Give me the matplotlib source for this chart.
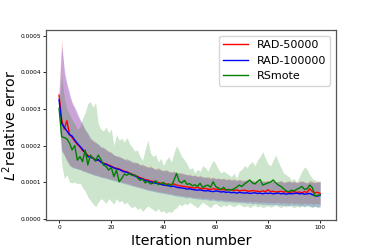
import numpy as np
import matplotlib
matplotlib.use("Agg")
import matplotlib.pyplot as plt
from matplotlib.ticker import FormatStrFormatter

# values in units of 1e-4, one per iteration 0..100
iters = np.arange(101)

rad50_mean = [3.38,
    2.70, 2.45, 2.68, 2.30, 2.22, 2.12, 2.03, 1.96, 1.86, 1.82,
    1.73, 1.70, 1.66, 1.62, 1.60, 1.56, 1.52, 1.50, 1.47, 1.44,
    1.40, 1.38, 1.36, 1.33, 1.30, 1.28, 1.25, 1.22, 1.18, 1.16,
    1.12, 1.10, 1.07, 1.06, 1.03, 1.02, 1.00, 0.99, 0.97, 0.96,
    0.95, 0.94, 0.93, 0.95, 0.92, 0.90, 0.89, 0.88, 0.87, 0.86,
    0.85, 0.84, 0.86, 0.83, 0.82, 0.83, 0.81, 0.80, 0.82, 0.81,
    0.80, 0.79, 0.80, 0.78, 0.80, 0.78, 0.77, 0.79, 0.76, 0.77,
    0.78, 0.76, 0.75, 0.77, 0.76, 0.75, 0.74, 0.76, 0.74, 0.79,
    0.74, 0.75, 0.73, 0.74, 0.75, 0.73, 0.74, 0.72, 0.73, 0.74,
    0.72, 0.73, 0.71, 0.74, 0.72, 0.82, 0.74, 0.71, 0.72, 0.69]
rad50_upper = [3.55,
    4.93, 3.95, 3.65, 3.35, 3.20, 3.00, 2.83, 2.70, 2.55, 2.45,
    2.30, 2.18, 2.15, 2.10, 2.02, 1.98, 1.93, 1.90, 1.85, 1.80,
    1.75, 1.70, 1.72, 1.66, 1.62, 1.65, 1.58, 1.55, 1.56, 1.52,
    1.48, 1.50, 1.44, 1.42, 1.45, 1.38, 1.36, 1.40, 1.34, 1.32,
    1.35, 1.30, 1.28, 1.31, 1.26, 1.24, 1.27, 1.22, 1.20, 1.23,
    1.18, 1.20, 1.16, 1.19, 1.15, 1.13, 1.16, 1.12, 1.14, 1.10,
    1.12, 1.09, 1.11, 1.08, 1.10, 1.07, 1.09, 1.05, 1.08, 1.06,
    1.05, 1.08, 1.04, 1.06, 1.03, 1.05, 1.02, 1.04, 1.03, 1.06,
    1.02, 1.04, 1.01, 1.03, 1.05, 1.00, 1.02, 1.04, 1.01, 1.03,
    1.00, 1.02, 1.04, 1.01, 0.99, 1.05, 1.02, 1.00, 1.03, 1.01]
rad50_lower = [2.95,
    1.90, 1.72, 1.60, 1.45, 1.42, 1.40, 1.37, 1.35, 1.32, 1.30,
    1.27, 1.25, 1.22, 1.20, 1.18, 1.15, 1.14, 1.12, 1.10, 1.08,
    1.06, 1.05, 1.03, 1.00, 0.98, 0.97, 0.95, 0.92, 0.90, 0.88,
    0.86, 0.85, 0.82, 0.80, 0.79, 0.77, 0.76, 0.74, 0.73, 0.72,
    0.70, 0.69, 0.68, 0.66, 0.65, 0.64, 0.63, 0.62, 0.60, 0.61,
    0.59, 0.58, 0.57, 0.58, 0.55, 0.56, 0.54, 0.53, 0.55, 0.52,
    0.51, 0.52, 0.50, 0.51, 0.49, 0.50, 0.48, 0.49, 0.47, 0.48,
    0.47, 0.46, 0.48, 0.45, 0.47, 0.46, 0.44, 0.46, 0.45, 0.44,
    0.45, 0.43, 0.44, 0.45, 0.42, 0.44, 0.43, 0.42, 0.44, 0.41,
    0.43, 0.42, 0.40, 0.43, 0.41, 0.42, 0.40, 0.41, 0.42, 0.40]

rad100_mean = [3.25,
    2.60, 2.50, 2.40, 2.30, 2.26, 2.15, 2.06, 1.98, 1.90, 1.80,
    1.70, 1.68, 1.66, 1.58, 1.62, 1.55, 1.50, 1.49, 1.45, 1.42,
    1.39, 1.36, 1.35, 1.31, 1.28, 1.27, 1.23, 1.20, 1.17, 1.14,
    1.10, 1.08, 1.04, 1.03, 1.01, 0.99, 0.97, 0.96, 0.94, 0.92,
    0.91, 0.90, 0.88, 0.89, 0.86, 0.85, 0.84, 0.83, 0.81, 0.82,
    0.80, 0.79, 0.78, 0.79, 0.77, 0.76, 0.77, 0.75, 0.74, 0.76,
    0.75, 0.73, 0.74, 0.72, 0.73, 0.71, 0.72, 0.70, 0.72, 0.71,
    0.70, 0.71, 0.69, 0.70, 0.71, 0.69, 0.70, 0.68, 0.70, 0.69,
    0.70, 0.68, 0.69, 0.70, 0.68, 0.69, 0.67, 0.69, 0.68, 0.69,
    0.70, 0.68, 0.69, 0.67, 0.68, 0.69, 0.66, 0.63, 0.62, 0.64]
rad100_upper = [3.40,
    4.72, 4.10, 3.70, 3.45, 3.15, 3.05, 2.90, 2.72, 2.60, 2.42,
    2.35, 2.22, 2.12, 2.08, 2.05, 1.95, 1.96, 1.88, 1.83, 1.82,
    1.74, 1.73, 1.68, 1.67, 1.63, 1.60, 1.61, 1.55, 1.52, 1.54,
    1.47, 1.46, 1.45, 1.40, 1.41, 1.39, 1.35, 1.36, 1.33, 1.31,
    1.32, 1.29, 1.27, 1.28, 1.25, 1.26, 1.22, 1.23, 1.20, 1.19,
    1.17, 1.18, 1.15, 1.16, 1.13, 1.14, 1.12, 1.10, 1.12, 1.09,
    1.10, 1.08, 1.09, 1.06, 1.08, 1.05, 1.07, 1.04, 1.06, 1.03,
    1.04, 1.05, 1.02, 1.04, 1.01, 1.03, 1.00, 1.02, 1.01, 1.03,
    1.00, 1.02, 0.99, 1.01, 1.03, 0.98, 1.00, 1.02, 0.99, 1.01,
    0.98, 1.00, 1.02, 0.99, 0.97, 1.01, 1.00, 0.98, 1.01, 0.99]
rad100_lower = [2.80,
    1.85, 1.75, 1.58, 1.48, 1.40, 1.38, 1.36, 1.34, 1.30, 1.28,
    1.25, 1.23, 1.20, 1.18, 1.16, 1.13, 1.12, 1.10, 1.08, 1.06,
    1.04, 1.02, 1.00, 0.98, 0.96, 0.94, 0.92, 0.90, 0.88, 0.86,
    0.84, 0.82, 0.80, 0.78, 0.76, 0.75, 0.73, 0.72, 0.70, 0.69,
    0.68, 0.66, 0.65, 0.63, 0.62, 0.61, 0.60, 0.58, 0.57, 0.58,
    0.56, 0.55, 0.54, 0.53, 0.52, 0.53, 0.51, 0.50, 0.51, 0.49,
    0.48, 0.49, 0.47, 0.46, 0.47, 0.45, 0.46, 0.44, 0.45, 0.43,
    0.44, 0.42, 0.43, 0.41, 0.42, 0.40, 0.41, 0.39, 0.40, 0.38,
    0.39, 0.38, 0.40, 0.37, 0.38, 0.36, 0.37, 0.35, 0.38, 0.36,
    0.37, 0.35, 0.36, 0.34, 0.36, 0.35, 0.33, 0.34, 0.32, 0.33]

rsmote_mean = [3.02,
    2.24, 2.22, 2.18, 2.07, 1.88, 2.00, 1.60, 1.70, 1.56, 1.88,
    1.47, 1.74, 1.65, 1.58, 1.74, 1.62, 1.47, 1.43, 1.33, 1.40,
    1.15, 1.33, 1.01, 1.10, 1.22, 1.19, 1.24, 1.18, 1.20, 1.12,
    1.05, 1.08, 0.98, 1.02, 0.95, 0.97, 1.04, 0.93, 0.96, 0.99,
    0.92, 0.95, 0.90, 1.05, 1.24, 1.02, 0.98, 1.05, 0.94, 0.96,
    0.90, 0.93, 0.88, 0.97, 0.85, 0.90, 0.92, 0.86, 1.01, 0.88,
    0.84, 0.80, 0.86, 0.78, 0.80, 0.78, 0.82, 0.86, 0.92, 0.88,
    0.95, 1.00, 1.06, 0.98, 0.95, 1.02, 1.07, 0.92, 0.95, 0.98,
    1.00, 1.06, 0.98, 0.92, 0.88, 0.82, 0.76, 0.74, 0.78, 0.76,
    0.80, 0.84, 0.88, 0.80, 0.82, 0.92, 0.85, 0.62, 0.64, 0.65]
rsmote_upper = [3.05,
    3.90, 3.30, 3.00, 2.85, 2.70, 2.60, 2.45, 2.50, 2.75, 2.90,
    3.15, 3.20, 3.05, 3.18, 2.60, 2.45, 2.40, 2.50, 2.35, 2.45,
    2.00, 2.30, 2.15, 2.20, 2.10, 2.22, 2.05, 1.95, 1.85, 1.88,
    1.70, 1.60, 1.90, 2.15, 1.80, 1.70, 1.75, 1.55, 1.65, 1.45,
    1.60, 1.70, 1.55, 1.80, 2.00, 1.85, 1.70, 1.61, 1.50, 1.35,
    1.40, 1.25, 1.35, 1.30, 1.45, 1.40, 1.30, 1.45, 1.60, 1.50,
    1.35, 1.25, 1.30, 1.25, 1.20, 1.15, 1.25, 1.10, 1.30, 1.35,
    1.45, 1.40, 1.50, 1.56, 1.45, 1.60, 1.70, 1.83, 1.65, 1.50,
    1.45, 1.60, 1.74, 1.55, 1.40, 1.25, 1.20, 1.15, 1.05, 1.10,
    1.00, 1.15, 1.30, 1.42, 1.35, 1.20, 1.10, 1.06, 1.00, 1.05]
rsmote_lower = [2.90,
    1.50, 1.10, 1.20, 1.00, 0.98, 1.00, 0.95, 0.98, 0.85, 0.75,
    0.60, 0.50, 0.40, 0.33, 0.45, 0.55, 0.50, 0.42, 0.55, 0.48,
    0.40, 0.55, 0.45, 0.50, 0.40, 0.45, 0.35, 0.30, 0.35, 0.25,
    0.30, 0.20, 0.28, 0.35, 0.30, 0.25, 0.20, 0.28, 0.18, 0.22,
    0.15, 0.20, 0.17, 0.25, 0.30, 0.40, 0.35, 0.42, 0.38, 0.45,
    0.40, 0.35, 0.30, 0.38, 0.45, 0.40, 0.35, 0.30, 0.38, 0.42,
    0.36, 0.32, 0.38, 0.34, 0.40, 0.36, 0.33, 0.37, 0.40, 0.35,
    0.32, 0.36, 0.30, 0.34, 0.37, 0.32, 0.35, 0.30, 0.33, 0.36,
    0.31, 0.34, 0.37, 0.33, 0.30, 0.35, 0.32, 0.36, 0.33, 0.30,
    0.34, 0.31, 0.35, 0.32, 0.36, 0.33, 0.30, 0.34, 0.31, 0.33]

scale = 1e-4
series = [
    ('RAD-50000', 'r', rad50_mean, rad50_lower, rad50_upper),
    ('RAD-100000', 'b', rad100_mean, rad100_lower, rad100_upper),
    ('RSmote', 'g', rsmote_mean, rsmote_lower, rsmote_upper),
]

fig = plt.figure(figsize=(3.74, 2.49), dpi=100)
ax = fig.add_axes([0.123, 0.1165, 0.775, 0.763])

for name, c, m, lo, hi in series:
    ax.fill_between(iters, np.array(lo) * scale, np.array(hi) * scale, color=c, alpha=0.2, linewidth=0)
for name, c, m, lo, hi in series:
    ax.plot(iters, np.array(m) * scale, color=c, linewidth=1, label=name)

ax.set_xlim(-5, 106)
ax.set_ylim(-0.0000035, 0.000516)
ax.set_xticks([0, 20, 40, 60, 80, 100])
ax.set_yticks([0, 0.0001, 0.0002, 0.0003, 0.0004, 0.0005])
ax.yaxis.set_major_formatter(FormatStrFormatter('%.4f'))
ax.tick_params(labelsize=4.2, length=2, width=0.6, pad=1.5)
for s in ax.spines.values():
    s.set_color('#555555')
    s.set_linewidth(0.9)

ax.set_xlabel('Iteration number', fontsize=10.3, labelpad=3)
ax.set_ylabel(r'$L^2$relative error', fontsize=10.3, labelpad=1)
ax.legend(loc='upper right', fontsize=8, handlelength=2.2)

fig.savefig('out.png', dpi=100)
